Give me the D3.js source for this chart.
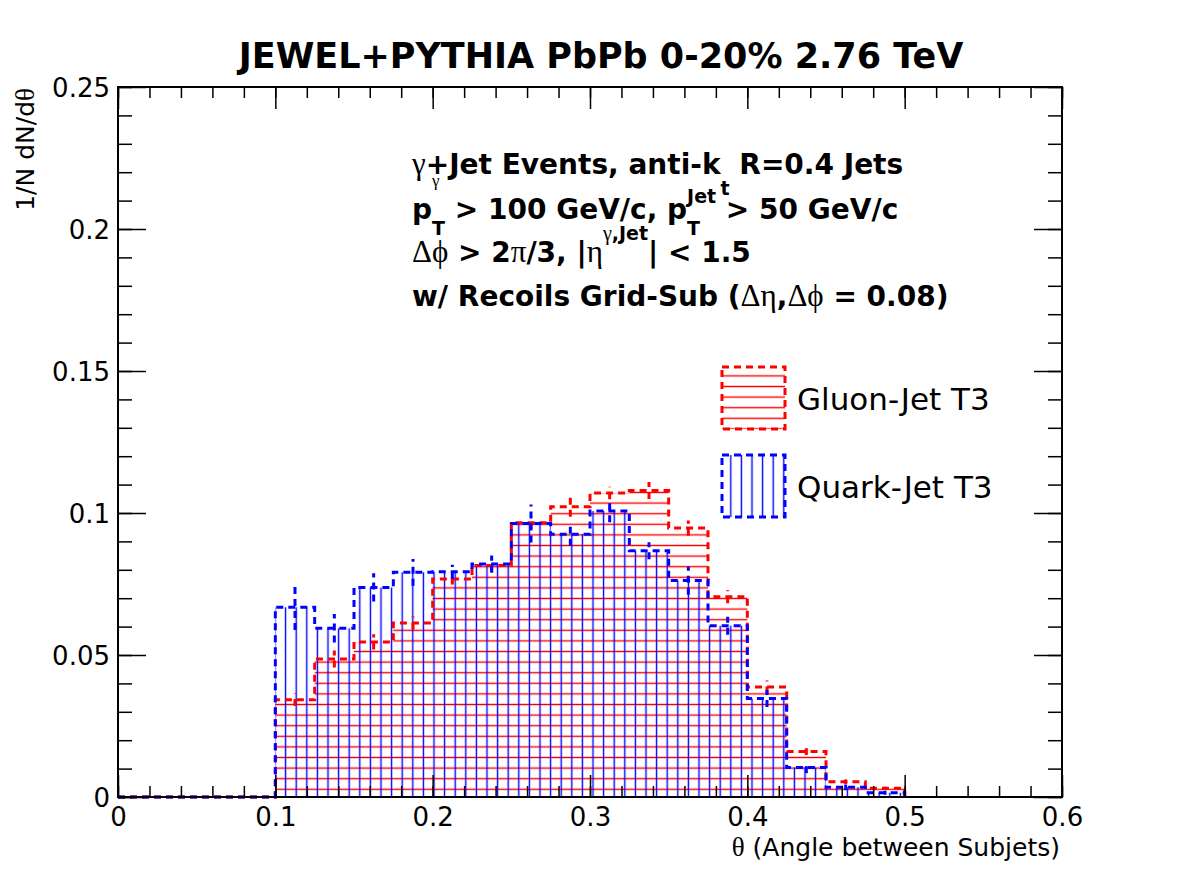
<!DOCTYPE html>
<meta charset="utf-8">
<head>
<script src="https://cdn.jsdelivr.net/npm/d3@7"></script>
</head>
<style>
body { margin: 0; background: #fff; }
text { font-family: "DejaVu Sans", "Liberation Sans", sans-serif; fill: #000; }
.greek { font-family: "Liberation Serif", "DejaVu Serif", serif; font-weight: normal; }
</style>
<body></body>
<script>
// bin low edges (width 0.025)
var binLow = [0, 0.025, 0.05, 0.075, 0.1, 0.125, 0.15, 0.175, 0.2, 0.225,
              0.25, 0.275, 0.3, 0.325, 0.35, 0.375, 0.4, 0.425, 0.45, 0.475];
var binWidth = 0.025;
var gluon = [0, 0, 0, 0, 0.0342, 0.0486, 0.0546, 0.0613, 0.0768, 0.0815,
             0.0966, 0.1022, 0.1070, 0.1079, 0.0947, 0.0705, 0.0387, 0.0160, 0.0054, 0.0031];
var gluonErr = [0, 0, 0, 0, 0.0022, 0.003, 0.0027, 0.0023, 0.002, 0.002,
                0.0022, 0.0035, 0.0022, 0.003, 0.0027, 0.0023, 0.0023, 0.0012, 0.0008, 0.0005];
var quark = [0, 0, 0, 0, 0.0668, 0.0594, 0.0738, 0.0791, 0.0793, 0.0820,
             0.0963, 0.0925, 0.1007, 0.0867, 0.0762, 0.0603, 0.0347, 0.0104, 0.0034, 0.0015];
var quarkErr = [0, 0, 0, 0, 0.008, 0.005, 0.005, 0.0047, 0.0025, 0.003,
                0.0067, 0.004, 0.004, 0.003, 0.005, 0.0032, 0.003, 0.002, 0.001, 0.0007];
var xTicks = [0, 0.1, 0.2, 0.3, 0.4, 0.5, 0.6];
var yTicks = [0, 0.05, 0.1, 0.15, 0.2, 0.25];
var legendLabels = ["Gluon-Jet T3", "Quark-Jet T3"];

var width = 1182, height = 886;
var x0 = 118, x1 = 1062, y0 = 797, y1 = 87;

var svg = d3.select("body").append("svg")
    .attr("width", width)
    .attr("height", height);
svg.append("rect").attr("width", width).attr("height", height).attr("fill", "#fff");

var x = d3.scaleLinear().domain([0, 0.6]).range([x0, x1]);
var y = d3.scaleLinear().domain([0, 0.25]).range([y0, y1]);

// hatch patterns (screen aligned, like ROOT)
var defs = svg.append("defs");
var sp = 10.6;
defs.append("pattern").attr("id", "hRed")
    .attr("patternUnits", "userSpaceOnUse")
    .attr("x", 0).attr("y", 789.3 - sp / 2)
    .attr("width", 20).attr("height", sp)
  .append("line").attr("x1", 0).attr("x2", 20).attr("y1", sp / 2).attr("y2", sp / 2)
    .attr("stroke", "#ff0000").attr("stroke-width", 1.4);
defs.append("pattern").attr("id", "hBlue")
    .attr("patternUnits", "userSpaceOnUse")
    .attr("x", 275 - sp / 2).attr("y", 0)
    .attr("width", sp).attr("height", 20)
  .append("line").attr("y1", 0).attr("y2", 20).attr("x1", sp / 2).attr("x2", sp / 2)
    .attr("stroke", "#0000ff").attr("stroke-width", 1.4);

function stepPoints(vals) {
  var pts = [[x(0), y(0)]];
  vals.forEach(function(v, i) {
    pts.push([x(binLow[i]), y(v)]);
    pts.push([x(binLow[i] + binWidth), y(v)]);
  });
  pts.push([x(binLow[binLow.length - 1] + binWidth), y(0)]);
  return pts;
}
var line = d3.line();

var series = [
  {vals: gluon, err: gluonErr, color: "#ff0000", pat: "url(#hRed)"},
  {vals: quark, err: quarkErr, color: "#0000ff", pat: "url(#hBlue)"}
];

series.forEach(function(s) {
  svg.append("path").attr("d", line(stepPoints(s.vals)) + "Z")
     .attr("fill", s.pat).attr("stroke", "none");
});
series.forEach(function(s) {
  svg.append("path").attr("d", line(stepPoints(s.vals)))
     .attr("fill", "none").attr("stroke", s.color)
     .attr("stroke-width", 3).attr("stroke-dasharray", "7,5");
  svg.selectAll(null).data(s.vals.map(function(v, i) { return {v: v, e: s.err[i], c: binLow[i] + binWidth / 2}; })
      .filter(function(d) { return d.v > 0; }))
    .enter().append("line")
    .attr("x1", function(d) { return x(d.c); }).attr("x2", function(d) { return x(d.c); })
    .attr("y1", function(d) { return y(d.v - d.e); }).attr("y2", function(d) { return y(d.v + d.e); })
    .attr("stroke", s.color).attr("stroke-width", 3).attr("stroke-dasharray", "7,5");
});

// axes, ticks inside the frame
var xMinor = d3.range(0, 31).map(function(i) { return i * 0.02; });
var yMinor = d3.range(0, 26).map(function(i) { return i * 0.01; });

function ax(axis, tr, size, lab) {
  var g = svg.append("g").attr("transform", tr)
     .call(axis.tickSize(size).tickSizeOuter(0).tickPadding(lab ? 8 : 0));
  g.select(".domain").remove();
  g.selectAll(".tick line").attr("stroke", "#000").attr("stroke-width", 1.5);
  if (!lab) g.selectAll(".tick text").remove();
  return g;
}
var gx = ax(d3.axisBottom(x).tickValues(xTicks).tickFormat(d3.format("")), "translate(0," + y0 + ")", -22, true);
ax(d3.axisBottom(x).tickValues(xMinor), "translate(0," + y0 + ")", -11, false);
ax(d3.axisTop(x).tickValues(xTicks), "translate(0," + y1 + ")", -22, false);
ax(d3.axisTop(x).tickValues(xMinor), "translate(0," + y1 + ")", -11, false);
var gy = ax(d3.axisLeft(y).tickValues(yTicks).tickFormat(d3.format("")), "translate(" + x0 + ",0)", -28, true);
ax(d3.axisLeft(y).tickValues(yMinor), "translate(" + x0 + ",0)", -14, false);
ax(d3.axisRight(y).tickValues(yTicks), "translate(" + x1 + ",0)", -28, false);
ax(d3.axisRight(y).tickValues(yMinor), "translate(" + x1 + ",0)", -14, false);
gx.selectAll(".tick text").attr("font-size", 26).attr("font-family", "DejaVu Sans").attr("dy", "0.82em");
gy.selectAll(".tick text").attr("font-size", 26).attr("font-family", "DejaVu Sans").attr("dy", "0.36em");

svg.append("rect").attr("x", x0).attr("y", y1).attr("width", x1 - x0).attr("height", y0 - y1)
   .attr("fill", "none").attr("stroke", "#000").attr("stroke-width", 2);

// title and axis titles
svg.append("text").attr("x", 601).attr("y", 68).attr("text-anchor", "middle")
   .attr("font-size", 35).attr("font-weight", "bold")
   .text("JEWEL+PYTHIA PbPb 0-20% 2.76 TeV");

var xt = svg.append("text").attr("x", 1060).attr("y", 856).attr("text-anchor", "end").attr("font-size", 25);
xt.append("tspan").attr("class", "greek").attr("font-size", 27).text("θ");
xt.append("tspan").text("\u00A0(Angle between Subjets)");

var yt = svg.append("text").attr("transform", "translate(34,88) rotate(-90)")
   .attr("text-anchor", "end").attr("font-size", 25);
yt.append("tspan").text("1/N dN/d");
yt.append("tspan").attr("class", "greek").attr("font-size", 27).text("θ");

// rich text helper: segments placed one after another, measured as they go
function rich(x, y, segs) {
  var cx = x, held = 0;
  segs.forEach(function(s) {
    var t = svg.append("text").attr("x", cx).attr("y", y + (s.dy || 0))
      .attr("font-size", s.size || (s.g ? 31 : 28))
      .attr("font-weight", "bold")
      .text(s.t.replace(/ /g, "\u00A0"));
    if (s.g) t.attr("class", "greek");
    var w = t.node().getComputedTextLength();
    if (s.hold) { held = w; }
    else { cx += Math.max(w, held); held = 0; }
  });
}
rich(412, 174, [
  {t: "γ", g: 1}, {t: "+Jet Events, anti-k"}, {t: "t", size: 19, dy: 21}, {t: " R=0.4 Jets"}
]);
rich(412, 219, [
  {t: "p"}, {t: "γ", g: 1, size: 17, dy: -33, hold: 1}, {t: "T", size: 19, dy: 16},
  {t: " > 100 GeV/c, p"}, {t: "Jet", size: 19, dy: -16, hold: 1}, {t: "T", size: 19, dy: 16},
  {t: " > 50 GeV/c"}
]);
rich(412, 262, [
  {t: "Δϕ", g: 1}, {t: " > 2"}, {t: "π", g: 1}, {t: "/3, |"}, {t: "η", g: 1},
  {t: "γ", g: 1, size: 20, dy: -22}, {t: ",Jet", size: 19, dy: -22}, {t: "| < 1.5"}
]);
rich(412, 306, [
  {t: "w/ Recoils Grid-Sub ("}, {t: "Δη", g: 1}, {t: ","}, {t: "Δϕ", g: 1}, {t: " = 0.08)"}
]);

// legend
var legY = [367, 455];
series.forEach(function(s, i) {
  svg.append("rect").attr("x", 722).attr("y", legY[i]).attr("width", 63).attr("height", 62)
     .attr("fill", s.pat).attr("stroke", s.color).attr("stroke-width", 3)
     .attr("stroke-dasharray", "7,5");
  svg.append("text").attr("x", 797).attr("y", legY[i] + 43).attr("font-size", 31)
     .text(legendLabels[i]);
});
</script>
